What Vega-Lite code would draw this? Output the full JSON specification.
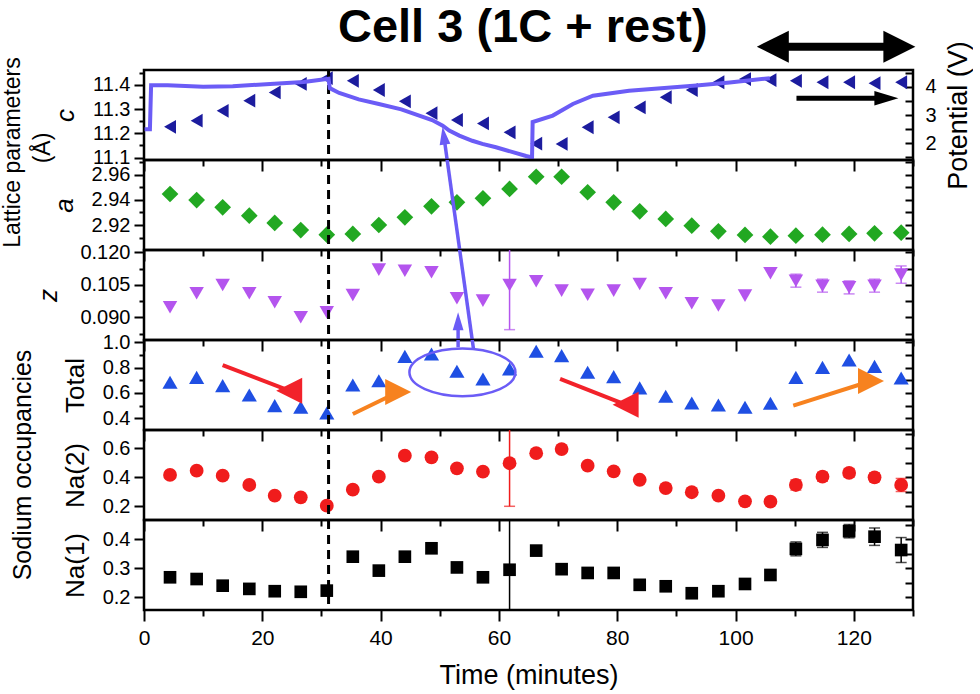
{
"$schema": "https://vega.github.io/schema/vega-lite/v6.json",
"background": "white",
"padding": {"left": 0, "top": 2, "right": 0, "bottom": 0},
"spacing": 0,
"bounds": "flush",
"config": {
  "view": {"stroke": "black", "strokeWidth": 2.5},
  "axis": {"domain": false, "grid": false, "tickColor": "black", "tickWidth": 2, "labelFont": "Liberation Sans", "labelFontSize": 20, "labelColor": "black", "labelPadding": 4, "labelFlush": false, "labelBound": false, "titleFont": "Liberation Sans", "titleFontSize": 26, "titleFontWeight": "normal", "titleColor": "black"},
  "text": {"font": "Liberation Sans", "color": "black"}
},
"datasets": {
  "pts": [
    {"t": 4.4, "c": 11.227, "a": 2.9446, "z": 0.0946, "total": 0.685, "na2": 0.416, "na1": 0.269},
    {"t": 8.9, "c": 11.252, "a": 2.9398, "z": 0.1011, "total": 0.724, "na2": 0.446, "na1": 0.263},
    {"t": 13.3, "c": 11.293, "a": 2.934, "z": 0.1049, "total": 0.658, "na2": 0.411, "na1": 0.240},
    {"t": 17.8, "c": 11.335, "a": 2.9274, "z": 0.1011, "total": 0.584, "na2": 0.347, "na1": 0.229},
    {"t": 22.1, "c": 11.369, "a": 2.9216, "z": 0.0969, "total": 0.500, "na2": 0.273, "na1": 0.221},
    {"t": 26.5, "c": 11.404, "a": 2.916, "z": 0.0900, "total": 0.487, "na2": 0.262, "na1": 0.219},
    {"t": 30.9, "c": 11.428, "a": 2.9123, "z": 0.0923, "total": 0.442, "na2": 0.204, "na1": 0.223},
    {"t": 35.3, "c": 11.417, "a": 2.9129, "z": 0.1003, "total": 0.663, "na2": 0.315, "na1": 0.340},
    {"t": 39.7, "c": 11.379, "a": 2.920, "z": 0.1120, "total": 0.697, "na2": 0.404, "na1": 0.292},
    {"t": 44.1, "c": 11.332, "a": 2.9261, "z": 0.1115, "total": 0.890, "na2": 0.549, "na1": 0.340},
    {"t": 48.6, "c": 11.283, "a": 2.9348, "z": 0.1108, "total": 0.908, "na2": 0.538, "na1": 0.369},
    {"t": 52.9, "c": 11.255, "a": 2.938, "z": 0.0988, "total": 0.772, "na2": 0.462, "na1": 0.303},
    {"t": 57.3, "c": 11.241, "a": 2.9412, "z": 0.0977, "total": 0.711, "na2": 0.439, "na1": 0.269},
    {"t": 61.8, "c": 11.204, "a": 2.9486, "z": 0.1049, "total": 0.790, "na2": 0.497, "na1": 0.295},
    {"t": 66.3, "c": 11.157, "a": 2.9583, "z": 0.1066, "total": 0.930, "na2": 0.566, "na1": 0.361},
    {"t": 70.6, "c": 11.156, "a": 2.9583, "z": 0.1023, "total": 0.895, "na2": 0.595, "na1": 0.297},
    {"t": 75.0, "c": 11.225, "a": 2.946, "z": 0.1004, "total": 0.764, "na2": 0.480, "na1": 0.284},
    {"t": 79.4, "c": 11.266, "a": 2.938, "z": 0.1023, "total": 0.729, "na2": 0.441, "na1": 0.284},
    {"t": 83.8, "c": 11.307, "a": 2.9309, "z": 0.1054, "total": 0.640, "na2": 0.383, "na1": 0.243},
    {"t": 88.2, "c": 11.349, "a": 2.9248, "z": 0.1011, "total": 0.574, "na2": 0.326, "na1": 0.238},
    {"t": 92.6, "c": 11.379, "a": 2.9195, "z": 0.0965, "total": 0.521, "na2": 0.297, "na1": 0.214},
    {"t": 97.1, "c": 11.411, "a": 2.915, "z": 0.0954, "total": 0.505, "na2": 0.273, "na1": 0.221},
    {"t": 101.6, "c": 11.424, "a": 2.9121, "z": 0.1000, "total": 0.487, "na2": 0.234, "na1": 0.246},
    {"t": 105.9, "c": 11.420, "a": 2.9107, "z": 0.1103, "total": 0.519, "na2": 0.232, "na1": 0.277},
    {"t": 110.2, "c": 11.417, "a": 2.9115, "z": 0.1069, "total": 0.724, "na2": 0.347, "na1": 0.367},
    {"t": 114.7, "c": 11.411, "a": 2.9123, "z": 0.1046, "total": 0.803, "na2": 0.404, "na1": 0.398},
    {"t": 119.2, "c": 11.411, "a": 2.9129, "z": 0.1038, "total": 0.861, "na2": 0.430, "na1": 0.428},
    {"t": 123.5, "c": 11.407, "a": 2.9134, "z": 0.1046, "total": 0.811, "na2": 0.400, "na1": 0.409},
    {"t": 128.0, "c": 11.411, "a": 2.9139, "z": 0.1097, "total": 0.719, "na2": 0.347, "na1": 0.363}
  ],
  "err": [
    {"t": 61.8, "z_lo": 0.0843, "z_hi": 0.1255, "na2_lo": 0.2, "na2_hi": 0.794, "na1_lo": 0.09, "na1_hi": 0.50},
    {"t": 110.2, "z_lo": 0.1039, "z_hi": 0.1099, "na2_lo": 0.312, "na2_hi": 0.382, "na1_lo": 0.343, "na1_hi": 0.391},
    {"t": 114.7, "z_lo": 0.1016, "z_hi": 0.1076, "na2_lo": 0.374, "na2_hi": 0.434, "na1_lo": 0.372, "na1_hi": 0.424},
    {"t": 119.2, "z_lo": 0.1008, "z_hi": 0.1068, "na2_lo": 0.400, "na2_hi": 0.460, "na1_lo": 0.405, "na1_hi": 0.451},
    {"t": 123.5, "z_lo": 0.1016, "z_hi": 0.1076, "na2_lo": 0.370, "na2_hi": 0.430, "na1_lo": 0.379, "na1_hi": 0.439},
    {"t": 128.0, "z_lo": 0.1057, "z_hi": 0.1137, "na2_lo": 0.302, "na2_hi": 0.392, "na1_lo": 0.320, "na1_hi": 0.406}
  ],
  "pot": [
    {"t": 0.1, "V": 2.5}, {"t": 1.0, "V": 2.5}, {"t": 1.2, "V": 4.05}, {"t": 4, "V": 4.05}, {"t": 10, "V": 4.0},
    {"t": 15, "V": 4.02}, {"t": 22, "V": 4.1}, {"t": 27, "V": 4.17}, {"t": 31.2, "V": 4.28}, {"t": 31.4, "V": 3.95},
    {"t": 33, "V": 3.78}, {"t": 36.3, "V": 3.55}, {"t": 39.7, "V": 3.39}, {"t": 43.5, "V": 3.2}, {"t": 48.7, "V": 2.82},
    {"t": 50.5, "V": 2.62}, {"t": 51.6, "V": 2.45}, {"t": 53.3, "V": 2.27}, {"t": 55.5, "V": 2.09}, {"t": 57.2, "V": 1.98},
    {"t": 59.5, "V": 1.86}, {"t": 64.6, "V": 1.55}, {"t": 65.6, "V": 1.5}, {"t": 65.7, "V": 2.75}, {"t": 69.1, "V": 2.98},
    {"t": 72.5, "V": 3.39}, {"t": 75.9, "V": 3.68}, {"t": 82, "V": 3.86}, {"t": 93.4, "V": 4.04}, {"t": 99, "V": 4.15},
    {"t": 105.8, "V": 4.3}
  ],
  "dash": [{"t": 31.2}],
  "blue": [
    {"panel": "total", "t": 55.70, "y": 0.94783, "t_end": 50.68, "y_end": 2.63478},
    {"panel": "total", "t": 53.10, "y": 0.96126, "t_end": 53.10, "y_end": 1.16680},
    {"panel": "z", "t": 55.70, "y": 0.075371, "t_end": 50.68, "y_end": 0.173849},
    {"panel": "z", "t": 53.10, "y": 0.076156, "t_end": 53.10, "y_end": 0.088154},
    {"panel": "a", "t": 55.70, "y": 2.82159, "t_end": 50.68, "y_end": 2.99095},
    {"panel": "c", "t": 55.70, "y": 10.30868, "t_end": 50.68, "y_end": 11.19050}
  ],
  "bluehead": [
    {"panel": "c", "t": 50.68, "y": 11.1905},
    {"panel": "z", "t": 53.10, "y": 0.088154}
  ],
  "trend": [
    {"id": "r1", "t": 13.3, "y": 0.821, "t_end": 24.54, "y_end": 0.618},
    {"id": "o1", "t": 35.3, "y": 0.434, "t_end": 42.97, "y_end": 0.608},
    {"id": "r2", "t": 70.34, "y": 0.711, "t_end": 81.42, "y_end": 0.508},
    {"id": "o2", "t": 109.76, "y": 0.5, "t_end": 122.9, "y_end": 0.695}
  ],
  "ellipse": [{"t": 53.83, "y": 0.7636}],
  "rest": [{"t": 110.3, "t_end": 125.5, "y": 11.3446}],
  "cycle": [{"t": 106.3, "t_end": 127.7, "y": 11.558}],
  "cycle_heads": [{"end": "left", "t": 106.3, "y": 11.558}, {"end": "right", "t": 127.7, "y": 11.558}],
  "labels": [
    {"panel": "title", "t": 64.03, "y": 11.578, "text": "Cell 3 (1C + rest)"},
    {"panel": "c", "t": -22.2, "y": 11.1207, "text": "Lattice parameters"},
    {"panel": "c", "t": -17.0, "y": 11.1393, "text": "(Å)"},
    {"panel": "na2", "t": -20.5, "y": 0.4848, "text": "Sodium occupancies"}
  ]
},
"vconcat": [
  {
    "width": 769, "height": 90,
    "resolve": {"scale": {"y": "independent"}},
    "layer": [
      {"layer": [
        {"data": {"name": "pts"},
         "mark": {"type": "point", "shape": "triangle-left", "filled": true, "size": 190, "color": "#1c1c9e", "opacity": 1},
         "encoding": {
           "x": {"field": "t", "type": "quantitative", "scale": {"domain": [0, 130], "nice": false, "zero": false},
                 "axis": {"values": [0,10,20,30,40,50,60,70,80,90,100,110,120,130], "labels": false, "title": null, "tickSize": {"condition": {"test": "datum.value % 20 != 0", "value": 6}, "value": 11}}},
           "y": {"field": "c", "type": "quantitative", "scale": {"domain": [11.0897, 11.4616], "nice": false, "zero": false},
                 "axis": {"title": "c", "titleFontStyle": "italic", "titlePadding": 14, "values": [11.1, 11.4], "format": ".1f", "tickSize": 10}}}},
        {"data": {"name": "dash"},
         "mark": {"type": "rule", "strokeDash": [9, 6], "strokeWidth": 3, "color": "black"},
         "encoding": {"x": {"field": "t", "type": "quantitative", "scale": {"domain": [0, 130], "nice": false, "zero": false}}}},
        {"data": {"name": "blue"}, "transform": [{"filter": "datum.panel == 'c'"}],
         "mark": {"type": "rule", "strokeWidth": 3.5, "color": "#6b5cf6", "clip": true},
         "encoding": {"x": {"field": "t", "type": "quantitative", "scale": {"domain": [0, 130], "nice": false, "zero": false}}, "x2": {"field": "t_end"},
                      "y": {"field": "y", "type": "quantitative", "scale": {"domain": [11.0897, 11.4616], "nice": false, "zero": false}}, "y2": {"field": "y_end"}}},
        {"data": {"name": "bluehead"}, "transform": [{"filter": "datum.panel == 'c'"}],
         "mark": {"type": "point", "shape": "M -0.137 -0.991 L -0.457 1.073 L 0.732 0.908 Z", "filled": true, "size": 324, "color": "#6b5cf6", "opacity": 1},
         "encoding": {"x": {"field": "t", "type": "quantitative", "scale": {"domain": [0, 130], "nice": false, "zero": false}},
                      "y": {"field": "y", "type": "quantitative", "scale": {"domain": [11.0897, 11.4616], "nice": false, "zero": false}}}},
        {"data": {"name": "rest"},
         "mark": {"type": "rule", "strokeWidth": 5, "color": "black"},
         "encoding": {"x": {"field": "t", "type": "quantitative", "scale": {"domain": [0, 130], "nice": false, "zero": false}}, "x2": {"field": "t_end"},
                      "y": {"field": "y", "type": "quantitative", "scale": {"domain": [11.0897, 11.4616], "nice": false, "zero": false}}}},
        {"data": {"name": "rest"},
         "mark": {"type": "point", "shape": "M 1 0 L -1 -0.6 L -1 0.6 Z", "filled": true, "size": 576, "color": "black", "opacity": 1},
         "encoding": {"x": {"field": "t_end", "type": "quantitative", "scale": {"domain": [0, 130], "nice": false, "zero": false}},
                      "y": {"field": "y", "type": "quantitative", "scale": {"domain": [11.0897, 11.4616], "nice": false, "zero": false}}}},
        {"data": {"name": "cycle"},
         "mark": {"type": "rule", "strokeWidth": 8, "color": "black", "clip": false},
         "encoding": {"x": {"field": "t", "type": "quantitative", "scale": {"domain": [0, 130], "nice": false, "zero": false}}, "x2": {"field": "t_end"},
                      "y": {"field": "y", "type": "quantitative", "scale": {"domain": [11.0897, 11.4616], "nice": false, "zero": false}}}},
        {"data": {"name": "cycle_heads"},
         "mark": {"type": "point", "filled": true, "size": 1024, "color": "black", "opacity": 1, "clip": false},
         "encoding": {"x": {"field": "t", "type": "quantitative", "scale": {"domain": [0, 130], "nice": false, "zero": false}},
                      "y": {"field": "y", "type": "quantitative", "scale": {"domain": [11.0897, 11.4616], "nice": false, "zero": false}},
                      "shape": {"field": "end", "type": "nominal", "scale": {"domain": ["left", "right"], "range": ["M -1 0 L 1 -1 L 1 1 Z", "M 1 0 L -1 -1 L -1 1 Z"]}, "legend": null}}},
        {"data": {"name": "labels"}, "transform": [{"filter": "datum.panel == 'title'"}],
         "mark": {"type": "text", "font": "Liberation Sans", "fontSize": 47, "fontWeight": "bold", "align": "center", "baseline": "alphabetic", "color": "black", "clip": false},
         "encoding": {"x": {"field": "t", "type": "quantitative", "scale": {"domain": [0, 130], "nice": false, "zero": false}},
                      "y": {"field": "y", "type": "quantitative", "scale": {"domain": [11.0897, 11.4616], "nice": false, "zero": false}},
                      "text": {"field": "text"}}},
        {"data": {"name": "labels"}, "transform": [{"filter": "datum.panel == 'c'"}],
         "mark": {"type": "text", "font": "Liberation Sans", "fontSize": 23, "angle": 270, "align": "center", "baseline": "middle", "color": "black", "clip": false},
         "encoding": {"x": {"field": "t", "type": "quantitative", "scale": {"domain": [0, 130], "nice": false, "zero": false}},
                      "y": {"field": "y", "type": "quantitative", "scale": {"domain": [11.0897, 11.4616], "nice": false, "zero": false}},
                      "text": {"field": "text"}}}
      ]},
      {"data": {"name": "pts"},
       "mark": {"type": "point", "opacity": 0},
       "encoding": {"x": {"field": "t", "type": "quantitative", "scale": {"domain": [0, 130], "nice": false, "zero": false}},
                    "y": {"field": "c", "type": "quantitative", "scale": {"domain": [11.0897, 11.4616], "nice": false, "zero": false},
                          "axis": {"orient": "left", "title": null, "values": [11.2, 11.3], "format": ".1f", "tickSize": 10}}}},
      {"data": {"name": "pts"},
       "mark": {"type": "point", "opacity": 0},
       "encoding": {"x": {"field": "t", "type": "quantitative", "scale": {"domain": [0, 130], "nice": false, "zero": false}},
                    "y": {"field": "c", "type": "quantitative", "scale": {"domain": [11.0897, 11.4616], "nice": false, "zero": false},
                          "axis": {"orient": "left", "title": null, "labels": false, "values": [11.15, 11.25, 11.35, 11.45], "tickSize": 5}}}},
      {"data": {"name": "pot"},
       "mark": {"type": "line", "strokeWidth": 4, "color": "#6b5cf6"},
       "encoding": {"x": {"field": "t", "type": "quantitative", "scale": {"domain": [0, 130], "nice": false, "zero": false}},
                    "y": {"field": "V", "type": "quantitative", "scale": {"domain": [1.4099, 4.5901], "nice": false, "zero": false},
                          "axis": {"orient": "right", "title": "Potential (V)", "titleAngle": 270, "titleFontSize": 27, "titlePadding": 36,
                                   "values": [2, 4], "format": "d", "tickSize": -8, "labelPadding": 20}}}},
      {"data": {"name": "pot"},
       "mark": {"type": "point", "opacity": 0},
       "encoding": {"x": {"field": "t", "type": "quantitative", "scale": {"domain": [0, 130], "nice": false, "zero": false}},
                    "y": {"field": "V", "type": "quantitative", "scale": {"domain": [1.4099, 4.5901], "nice": false, "zero": false},
                          "axis": {"orient": "right", "title": null, "values": [3], "format": "d", "tickSize": -8, "labelPadding": 20}}}},
      {"data": {"name": "pot"},
       "mark": {"type": "point", "opacity": 0},
       "encoding": {"x": {"field": "t", "type": "quantitative", "scale": {"domain": [0, 130], "nice": false, "zero": false}},
                    "y": {"field": "V", "type": "quantitative", "scale": {"domain": [1.4099, 4.5901], "nice": false, "zero": false},
                          "axis": {"orient": "right", "title": null, "labels": false, "values": [1.5, 2.5, 3.5, 4.5], "tickSize": -8}}}}
    ]
  },
  {
    "width": 769, "height": 90,
    "resolve": {"scale": {"y": "independent"}},
    "layer": [
      {"layer": [
        {"data": {"name": "pts"},
         "mark": {"type": "point", "shape": "diamond", "filled": true, "size": 280, "color": "#22a822", "opacity": 1},
         "encoding": {
           "x": {"field": "t", "type": "quantitative", "scale": {"domain": [0, 130], "nice": false, "zero": false},
                 "axis": {"values": [0,10,20,30,40,50,60,70,80,90,100,110,120,130], "labels": false, "title": null, "tickSize": {"condition": {"test": "datum.value % 20 != 0", "value": 6}, "value": 11}}},
           "y": {"field": "a", "type": "quantitative", "scale": {"domain": [2.90016, 2.97159], "nice": false, "zero": false},
                 "axis": {"title": "a", "titleFontStyle": "italic", "titlePadding": 14, "values": [2.92, 2.94, 2.96], "format": ".2f", "tickSize": 10}}}},
        {"data": {"name": "dash"},
         "mark": {"type": "rule", "strokeDash": [9, 6], "strokeWidth": 3, "color": "black"},
         "encoding": {"x": {"field": "t", "type": "quantitative", "scale": {"domain": [0, 130], "nice": false, "zero": false}}}},
        {"data": {"name": "blue"}, "transform": [{"filter": "datum.panel == 'a'"}],
         "mark": {"type": "rule", "strokeWidth": 3.5, "color": "#6b5cf6", "clip": true},
         "encoding": {"x": {"field": "t", "type": "quantitative", "scale": {"domain": [0, 130], "nice": false, "zero": false}}, "x2": {"field": "t_end"},
                      "y": {"field": "y", "type": "quantitative", "scale": {"domain": [2.90016, 2.97159], "nice": false, "zero": false}}, "y2": {"field": "y_end"}}}
      ]},
      {"data": {"name": "pts"},
       "mark": {"type": "point", "opacity": 0},
       "encoding": {"x": {"field": "t", "type": "quantitative", "scale": {"domain": [0, 130], "nice": false, "zero": false}},
                    "y": {"field": "a", "type": "quantitative", "scale": {"domain": [2.90016, 2.97159], "nice": false, "zero": false},
                          "axis": {"orient": "left", "labels": false, "title": null, "values": [2.91, 2.93, 2.95, 2.97], "tickSize": 5}}}},
      {"data": {"name": "pts"},
       "mark": {"type": "point", "opacity": 0},
       "encoding": {"x": {"field": "t", "type": "quantitative", "scale": {"domain": [0, 130], "nice": false, "zero": false}},
                    "y": {"field": "a", "type": "quantitative", "scale": {"domain": [2.90016, 2.97159], "nice": false, "zero": false},
                          "axis": {"orient": "right", "labels": false, "title": null, "values": [2.91,2.92,2.93,2.94,2.95,2.96,2.97], "tickSize": -8}}}}
    ]
  },
  {
    "width": 769, "height": 90,
    "resolve": {"scale": {"y": "independent"}},
    "layer": [
      {"layer": [
        {"data": {"name": "err"},
         "mark": {"type": "rule", "strokeWidth": 1.5, "color": "#b455ee", "clip": true},
         "encoding": {
           "x": {"field": "t", "type": "quantitative", "scale": {"domain": [0, 130], "nice": false, "zero": false},
                 "axis": {"values": [0,10,20,30,40,50,60,70,80,90,100,110,120,130], "labels": false, "title": null, "tickSize": {"condition": {"test": "datum.value % 20 != 0", "value": 6}, "value": 11}}},
           "y": {"field": "z_lo", "type": "quantitative", "scale": {"domain": [0.079525, 0.121057], "nice": false, "zero": false},
                 "axis": {"title": "z", "titleFontStyle": "italic", "titlePadding": 18, "values": [0.09, 0.105, 0.12], "format": ".3f", "tickSize": 10}},
           "y2": {"field": "z_hi"}}},
        {"data": {"name": "err"},
         "mark": {"type": "tick", "orient": "horizontal", "size": 11, "thickness": 1.5, "color": "#b455ee", "clip": true},
         "encoding": {"x": {"field": "t", "type": "quantitative", "scale": {"domain": [0, 130], "nice": false, "zero": false}},
                      "y": {"field": "z_lo", "type": "quantitative", "scale": {"domain": [0.079525, 0.121057], "nice": false, "zero": false}}}},
        {"data": {"name": "err"},
         "mark": {"type": "tick", "orient": "horizontal", "size": 11, "thickness": 1.5, "color": "#b455ee", "clip": true},
         "encoding": {"x": {"field": "t", "type": "quantitative", "scale": {"domain": [0, 130], "nice": false, "zero": false}},
                      "y": {"field": "z_hi", "type": "quantitative", "scale": {"domain": [0.079525, 0.121057], "nice": false, "zero": false}}}},
        {"data": {"name": "pts"},
         "mark": {"type": "point", "shape": "triangle-down", "filled": true, "size": 210, "color": "#b455ee", "opacity": 1},
         "encoding": {"x": {"field": "t", "type": "quantitative", "scale": {"domain": [0, 130], "nice": false, "zero": false}},
                      "y": {"field": "z", "type": "quantitative", "scale": {"domain": [0.079525, 0.121057], "nice": false, "zero": false}}}},
        {"data": {"name": "dash"},
         "mark": {"type": "rule", "strokeDash": [9, 6], "strokeWidth": 3, "color": "black"},
         "encoding": {"x": {"field": "t", "type": "quantitative", "scale": {"domain": [0, 130], "nice": false, "zero": false}}}},
        {"data": {"name": "blue"}, "transform": [{"filter": "datum.panel == 'z'"}],
         "mark": {"type": "rule", "strokeWidth": 3.5, "color": "#6b5cf6", "clip": true},
         "encoding": {"x": {"field": "t", "type": "quantitative", "scale": {"domain": [0, 130], "nice": false, "zero": false}}, "x2": {"field": "t_end"},
                      "y": {"field": "y", "type": "quantitative", "scale": {"domain": [0.079525, 0.121057], "nice": false, "zero": false}}, "y2": {"field": "y_end"}}},
        {"data": {"name": "bluehead"}, "transform": [{"filter": "datum.panel == 'z'"}],
         "mark": {"type": "point", "shape": "M 0 -1 L -0.6 1 L 0.6 1 Z", "filled": true, "size": 324, "color": "#6b5cf6", "opacity": 1},
         "encoding": {"x": {"field": "t", "type": "quantitative", "scale": {"domain": [0, 130], "nice": false, "zero": false}},
                      "y": {"field": "y", "type": "quantitative", "scale": {"domain": [0.079525, 0.121057], "nice": false, "zero": false}}}}
      ]},
      {"data": {"name": "pts"},
       "mark": {"type": "point", "opacity": 0},
       "encoding": {"x": {"field": "t", "type": "quantitative", "scale": {"domain": [0, 130], "nice": false, "zero": false}},
                    "y": {"field": "z", "type": "quantitative", "scale": {"domain": [0.079525, 0.121057], "nice": false, "zero": false},
                          "axis": {"orient": "left", "labels": false, "title": null, "values": [0.0825, 0.0975, 0.1125], "tickSize": 5}}}},
      {"data": {"name": "pts"},
       "mark": {"type": "point", "opacity": 0},
       "encoding": {"x": {"field": "t", "type": "quantitative", "scale": {"domain": [0, 130], "nice": false, "zero": false}},
                    "y": {"field": "z", "type": "quantitative", "scale": {"domain": [0.079525, 0.121057], "nice": false, "zero": false},
                          "axis": {"orient": "right", "labels": false, "title": null, "values": [0.0825,0.09,0.0975,0.105,0.1125,0.12], "tickSize": -8}}}}
    ]
  },
  {
    "width": 769, "height": 90,
    "resolve": {"scale": {"y": "independent"}},
    "layer": [
      {"layer": [
        {"data": {"name": "pts"},
         "mark": {"type": "point", "shape": "triangle-up", "filled": true, "size": 230, "color": "#1f4fe3", "opacity": 1},
         "encoding": {
           "x": {"field": "t", "type": "quantitative", "scale": {"domain": [0, 130], "nice": false, "zero": false},
                 "axis": {"values": [0,10,20,30,40,50,60,70,80,90,100,110,120,130], "labels": false, "title": null, "tickSize": {"condition": {"test": "datum.value % 20 != 0", "value": 6}, "value": 11}}},
           "y": {"field": "total", "type": "quantitative", "scale": {"domain": [0.30751, 1.01897], "nice": false, "zero": false},
                 "axis": {"title": "Total", "titlePadding": 14, "values": [0.4, 0.8], "format": ".1f", "tickSize": 10}}}},
        {"data": {"name": "dash"},
         "mark": {"type": "rule", "strokeDash": [9, 6], "strokeWidth": 3, "color": "black"},
         "encoding": {"x": {"field": "t", "type": "quantitative", "scale": {"domain": [0, 130], "nice": false, "zero": false}}}},
        {"data": {"name": "trend"},
         "mark": {"type": "rule", "strokeWidth": 4},
         "encoding": {"x": {"field": "t", "type": "quantitative", "scale": {"domain": [0, 130], "nice": false, "zero": false}}, "x2": {"field": "t_end"},
                      "y": {"field": "y", "type": "quantitative", "scale": {"domain": [0.30751, 1.01897], "nice": false, "zero": false}}, "y2": {"field": "y_end"},
                      "color": {"field": "id", "type": "nominal", "scale": {"domain": ["r1", "o1", "r2", "o2"], "range": ["#f2222a", "#f7821f", "#f2222a", "#f7821f"]}, "legend": null}}},
        {"data": {"name": "trend"},
         "mark": {"type": "point", "filled": true, "size": 676, "opacity": 1},
         "encoding": {"x": {"field": "t_end", "type": "quantitative", "scale": {"domain": [0, 130], "nice": false, "zero": false}},
                      "y": {"field": "y_end", "type": "quantitative", "scale": {"domain": [0.30751, 1.01897], "nice": false, "zero": false}},
                      "color": {"field": "id", "type": "nominal", "scale": {"domain": ["r1", "o1", "r2", "o2"], "range": ["#f2222a", "#f7821f", "#f2222a", "#f7821f"]}, "legend": null},
                      "shape": {"field": "id", "type": "nominal", "scale": {"domain": ["r1", "o1", "r2", "o2"], "range": ["M 0.933 0.36 L -0.627 -1.153 L -1.239 0.433 Z", "M 0.9 -0.437 L -1.271 -0.328 L -0.529 1.202 Z", "M 0.933 0.36 L -0.627 -1.153 L -1.239 0.433 Z", "M 0.953 -0.304 L -1.211 -0.506 L -0.695 1.114 Z"]}, "legend": null}}},
        {"data": {"name": "ellipse"},
         "mark": {"type": "point", "shape": "M 1 0 C 1 0.2485 0.5523 0.45 0 0.45 C -0.5523 0.45 -1 0.2485 -1 0 C -1 -0.2485 -0.5523 -0.45 0 -0.45 C 0.5523 -0.45 1 -0.2485 1 0 Z", "filled": false, "size": 11236, "stroke": "#6b5cf6", "strokeWidth": 2.5, "opacity": 1},
         "encoding": {"x": {"field": "t", "type": "quantitative", "scale": {"domain": [0, 130], "nice": false, "zero": false}},
                      "y": {"field": "y", "type": "quantitative", "scale": {"domain": [0.30751, 1.01897], "nice": false, "zero": false}}}},
        {"data": {"name": "blue"}, "transform": [{"filter": "datum.panel == 'total'"}],
         "mark": {"type": "rule", "strokeWidth": 3.5, "color": "#6b5cf6", "clip": true},
         "encoding": {"x": {"field": "t", "type": "quantitative", "scale": {"domain": [0, 130], "nice": false, "zero": false}}, "x2": {"field": "t_end"},
                      "y": {"field": "y", "type": "quantitative", "scale": {"domain": [0.30751, 1.01897], "nice": false, "zero": false}}, "y2": {"field": "y_end"}}}
      ]},
      {"data": {"name": "pts"},
       "mark": {"type": "point", "opacity": 0},
       "encoding": {"x": {"field": "t", "type": "quantitative", "scale": {"domain": [0, 130], "nice": false, "zero": false}},
                    "y": {"field": "total", "type": "quantitative", "scale": {"domain": [0.30751, 1.01897], "nice": false, "zero": false},
                          "axis": {"orient": "left", "title": null, "values": [0.6, 1.0], "format": ".1f", "tickSize": 10}}}},
      {"data": {"name": "pts"},
       "mark": {"type": "point", "opacity": 0},
       "encoding": {"x": {"field": "t", "type": "quantitative", "scale": {"domain": [0, 130], "nice": false, "zero": false}},
                    "y": {"field": "total", "type": "quantitative", "scale": {"domain": [0.30751, 1.01897], "nice": false, "zero": false},
                          "axis": {"orient": "left", "labels": false, "title": null, "values": [0.5, 0.7, 0.9], "tickSize": 5}}}},
      {"data": {"name": "pts"},
       "mark": {"type": "point", "opacity": 0},
       "encoding": {"x": {"field": "t", "type": "quantitative", "scale": {"domain": [0, 130], "nice": false, "zero": false}},
                    "y": {"field": "total", "type": "quantitative", "scale": {"domain": [0.30751, 1.01897], "nice": false, "zero": false},
                          "axis": {"orient": "right", "labels": false, "title": null, "values": [0.4,0.5,0.6,0.7,0.8,0.9,1.0], "tickSize": -8}}}}
    ]
  },
  {
    "width": 769, "height": 90,
    "resolve": {"scale": {"y": "independent"}},
    "layer": [
      {"layer": [
        {"data": {"name": "err"},
         "mark": {"type": "rule", "strokeWidth": 1.5, "color": "#f01c1c", "clip": true},
         "encoding": {
           "x": {"field": "t", "type": "quantitative", "scale": {"domain": [0, 130], "nice": false, "zero": false},
                 "axis": {"values": [0,10,20,30,40,50,60,70,80,90,100,110,120,130], "labels": false, "title": null, "tickSize": {"condition": {"test": "datum.value % 20 != 0", "value": 6}, "value": 11}}},
           "y": {"field": "na2_lo", "type": "quantitative", "scale": {"domain": [0.10552, 0.72621], "nice": false, "zero": false},
                 "axis": {"title": "Na(2)", "titlePadding": 14, "values": [0.2,0.3,0.4,0.5,0.6,0.7], "format": ".1f",
                          "labelExpr": "abs(datum.value*5-round(datum.value*5))>0.01 ? '' : datum.label",
                          "tickSize": {"condition": {"test": "abs(datum.value*5-round(datum.value*5))>0.01", "value": 5}, "value": 10}}},
           "y2": {"field": "na2_hi"}}},
        {"data": {"name": "err"},
         "mark": {"type": "tick", "orient": "horizontal", "size": 11, "thickness": 1.5, "color": "#f01c1c", "clip": true},
         "encoding": {"x": {"field": "t", "type": "quantitative", "scale": {"domain": [0, 130], "nice": false, "zero": false}},
                      "y": {"field": "na2_lo", "type": "quantitative", "scale": {"domain": [0.10552, 0.72621], "nice": false, "zero": false}}}},
        {"data": {"name": "err"},
         "mark": {"type": "tick", "orient": "horizontal", "size": 11, "thickness": 1.5, "color": "#f01c1c", "clip": true},
         "encoding": {"x": {"field": "t", "type": "quantitative", "scale": {"domain": [0, 130], "nice": false, "zero": false}},
                      "y": {"field": "na2_hi", "type": "quantitative", "scale": {"domain": [0.10552, 0.72621], "nice": false, "zero": false}}}},
        {"data": {"name": "pts"},
         "mark": {"type": "point", "shape": "circle", "filled": true, "size": 190, "color": "#f01c1c", "opacity": 1},
         "encoding": {"x": {"field": "t", "type": "quantitative", "scale": {"domain": [0, 130], "nice": false, "zero": false}},
                      "y": {"field": "na2", "type": "quantitative", "scale": {"domain": [0.10552, 0.72621], "nice": false, "zero": false}}}},
        {"data": {"name": "dash"},
         "mark": {"type": "rule", "strokeDash": [9, 6], "strokeWidth": 3, "color": "black"},
         "encoding": {"x": {"field": "t", "type": "quantitative", "scale": {"domain": [0, 130], "nice": false, "zero": false}}}},
        {"data": {"name": "labels"}, "transform": [{"filter": "datum.panel == 'na2'"}],
         "mark": {"type": "text", "font": "Liberation Sans", "fontSize": 25, "angle": 270, "align": "center", "baseline": "middle", "color": "black", "clip": false},
         "encoding": {"x": {"field": "t", "type": "quantitative", "scale": {"domain": [0, 130], "nice": false, "zero": false}},
                      "y": {"field": "y", "type": "quantitative", "scale": {"domain": [0.10552, 0.72621], "nice": false, "zero": false}},
                      "text": {"field": "text"}}}
      ]},
      {"data": {"name": "pts"},
       "mark": {"type": "point", "opacity": 0},
       "encoding": {"x": {"field": "t", "type": "quantitative", "scale": {"domain": [0, 130], "nice": false, "zero": false}},
                    "y": {"field": "na2", "type": "quantitative", "scale": {"domain": [0.10552, 0.72621], "nice": false, "zero": false},
                          "axis": {"orient": "right", "labels": false, "title": null, "values": [0.2,0.3,0.4,0.5,0.6,0.7], "tickSize": -8}}}}
    ]
  },
  {
    "width": 769, "height": 90,
    "resolve": {"scale": {"y": "independent"}},
    "layer": [
      {"layer": [
        {"data": {"name": "err"},
         "mark": {"type": "rule", "strokeWidth": 1.5, "color": "black", "clip": true},
         "encoding": {
           "x": {"field": "t", "type": "quantitative", "scale": {"domain": [0, 130], "nice": false, "zero": false},
                 "axis": {"values": [0,10,20,30,40,50,60,70,80,90,100,110,120,130], "title": "Time (minutes)", "titleFontSize": 27, "titlePadding": 14, "labelPadding": 6, "labelFontSize": 21,
                          "labelExpr": "datum.value % 20 != 0 ? '' : datum.label",
                          "tickSize": {"condition": {"test": "datum.value % 20 != 0", "value": 6}, "value": 11}}},
           "y": {"field": "na1_lo", "type": "quantitative", "scale": {"domain": [0.15621, 0.46655], "nice": false, "zero": false},
                 "axis": {"title": "Na(1)", "titlePadding": 14, "values": [0.2,0.25,0.3,0.35,0.4,0.45], "format": ".1f",
                          "labelExpr": "abs(datum.value*10-round(datum.value*10))>0.01 ? '' : datum.label",
                          "tickSize": {"condition": {"test": "abs(datum.value*10-round(datum.value*10))>0.01", "value": 5}, "value": 10}}},
           "y2": {"field": "na1_hi"}}},
        {"data": {"name": "err"},
         "mark": {"type": "tick", "orient": "horizontal", "size": 11, "thickness": 1.5, "color": "black", "clip": true},
         "encoding": {"x": {"field": "t", "type": "quantitative", "scale": {"domain": [0, 130], "nice": false, "zero": false}},
                      "y": {"field": "na1_lo", "type": "quantitative", "scale": {"domain": [0.15621, 0.46655], "nice": false, "zero": false}}}},
        {"data": {"name": "err"},
         "mark": {"type": "tick", "orient": "horizontal", "size": 11, "thickness": 1.5, "color": "black", "clip": true},
         "encoding": {"x": {"field": "t", "type": "quantitative", "scale": {"domain": [0, 130], "nice": false, "zero": false}},
                      "y": {"field": "na1_hi", "type": "quantitative", "scale": {"domain": [0.15621, 0.46655], "nice": false, "zero": false}}}},
        {"data": {"name": "pts"},
         "mark": {"type": "point", "shape": "square", "filled": true, "size": 160, "color": "black", "opacity": 1},
         "encoding": {"x": {"field": "t", "type": "quantitative", "scale": {"domain": [0, 130], "nice": false, "zero": false}},
                      "y": {"field": "na1", "type": "quantitative", "scale": {"domain": [0.15621, 0.46655], "nice": false, "zero": false}}}},
        {"data": {"name": "dash"},
         "mark": {"type": "rule", "strokeDash": [9, 6], "strokeWidth": 3, "color": "black"},
         "encoding": {"x": {"field": "t", "type": "quantitative", "scale": {"domain": [0, 130], "nice": false, "zero": false}}}}
      ]},
      {"data": {"name": "pts"},
       "mark": {"type": "point", "opacity": 0},
       "encoding": {"x": {"field": "t", "type": "quantitative", "scale": {"domain": [0, 130], "nice": false, "zero": false}},
                    "y": {"field": "na1", "type": "quantitative", "scale": {"domain": [0.15621, 0.46655], "nice": false, "zero": false},
                          "axis": {"orient": "right", "labels": false, "title": null, "values": [0.2,0.25,0.3,0.35,0.4,0.45], "tickSize": -8}}}}
    ]
  }
]
}
